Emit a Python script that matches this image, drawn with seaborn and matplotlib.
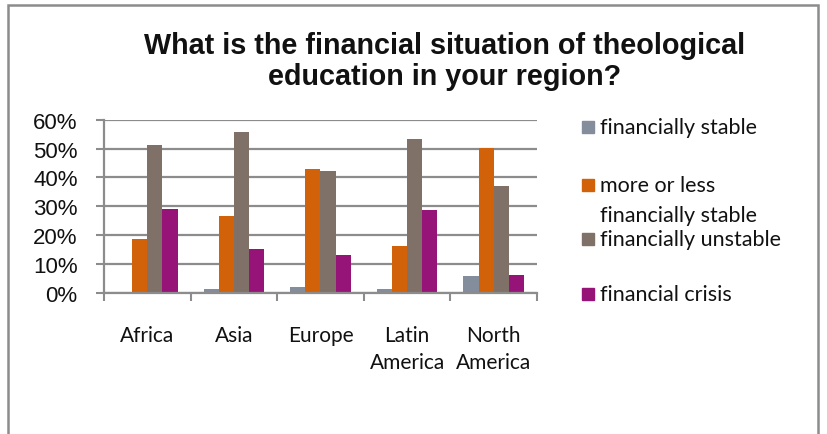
import numpy as np
import pandas as pd
import matplotlib
matplotlib.use("Agg")
import matplotlib.pyplot as plt
import seaborn as sns
from matplotlib.patches import Rectangle

regions = ["Africa", "Asia", "Europe", "Latin\nAmerica", "North\nAmerica"]
series = ["financially stable", "more or less\nfinancially stable",
          "financially unstable", "financial crisis"]
stable = [0.0, 1.4, 2.0, 1.4, 5.9]
more_less = [18.7, 26.8, 42.8, 16.1, 50.2]
unstable = [51.2, 55.6, 42.3, 53.4, 36.9]
crisis = [29.1, 15.2, 13.0, 28.6, 6.3]
yticks = [0, 10, 20, 30, 40, 50, 60]
title = "What is the financial situation of theological\neducation in your region?"
colors = ["#838D9B", "#D2620A", "#7F7068", "#961478"]

rows = []
for s, vals in zip(series, [stable, more_less, unstable, crisis]):
    for r, v in zip(regions, vals):
        rows.append({"region": r, "series": s, "value": v})
df = pd.DataFrame(rows)

sns.set_style("white")
W, H = 828, 435
fig = plt.figure(figsize=(W / 100, H / 100), dpi=100)
ax = fig.add_axes([104 / W, 1 - 294 / H, 433 / W, (294 - 120.7) / H])

sns.barplot(data=df, x="region", y="value", hue="series", order=regions,
            hue_order=series, palette=colors, width=0.7, saturation=1,
            legend=False, ax=ax, linewidth=0)

grid_c = "#8C8C8C"
ax.set_ylim(0, 60)
ax.set_xlim(-0.5, 4.5)
ax.set_yticks(yticks)
ax.set_yticklabels([f"{v}%" for v in yticks], fontfamily="Liberation Sans",
                   fontsize=16, color="#111111")
ax.set_axisbelow(True)
ax.yaxis.grid(True, color=grid_c, lw=1.6)
ax.tick_params(axis="y", length=6, width=1.5, color=grid_c, pad=13, left=True)
ax.set_xticks(range(len(regions)))
ax.set_xticklabels(regions, fontfamily="Lato", fontsize=15, color="#111111",
                   linespacing=1.45)
ax.set_xticks(np.arange(-0.5, len(regions), 1.0), minor=True)
ax.tick_params(axis="x", which="major", length=0, pad=23)
ax.tick_params(axis="x", which="minor", length=6, width=1.5, color=grid_c,
               bottom=True)
for sp in ["top", "right"]:
    ax.spines[sp].set_visible(False)
for sp in ["left", "bottom"]:
    ax.spines[sp].set_color(grid_c)
    ax.spines[sp].set_linewidth(1.6)
ax.set_xlabel("")
ax.set_ylabel("")

fig.text(445 / W, 1 - 32 / H, title, ha="center", va="top",
         fontfamily="Liberation Sans", fontweight="bold", fontsize=20.7,
         color="#111111", linespacing=1.12)

# legend
centers = [128, 186, 240, 295]
for s, c, yc in zip(series, colors, centers):
    fig.patches.append(Rectangle((582 / W, 1 - (yc + 6) / H), 12 / W, 12 / H,
                                 transform=fig.transFigure, color=c))
    for i, line in enumerate(s.split("\n")):
        fig.text(600 / W, 1 - (yc + i * 30) / H, line, ha="left",
                 va="center", fontfamily="Lato", fontsize=15.5, color="#111111")

# outer frame
fig.patches.append(Rectangle((8 / W, -0.05), 810 / W, 1.05 - 6 / H,
                             transform=fig.transFigure, fill=False,
                             edgecolor=grid_c, lw=1.8))

fig.savefig("out.png", dpi=100)
